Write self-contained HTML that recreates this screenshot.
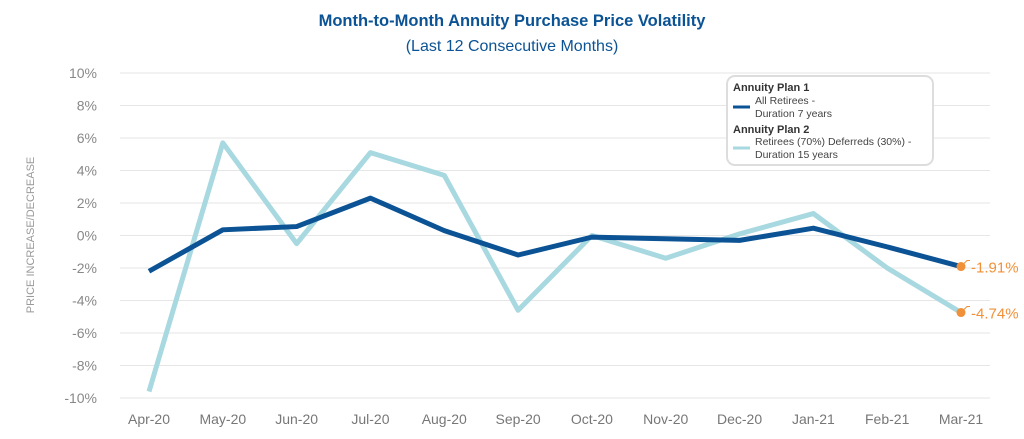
<!DOCTYPE html>
<html><head><meta charset="utf-8"><style>
body{margin:0;background:#fff;font-family:"Liberation Sans",sans-serif}
svg text{font-family:"Liberation Sans",sans-serif}
</style></head><body>
<svg width="1024" height="434" xmlns="http://www.w3.org/2000/svg">
<text x="512" y="26" text-anchor="middle" font-size="16.5" font-weight="bold" fill="#0b5394">Month-to-Month Annuity Purchase Price Volatility</text>
<text x="512" y="51" text-anchor="middle" font-size="16" fill="#0b5394">(Last 12 Consecutive Months)</text>
<text transform="translate(34,235) rotate(-90)" text-anchor="middle" font-size="11" fill="#999">PRICE INCREASE/DECREASE</text>
<g id="grid"></g><g id="ylab"></g><g id="xlab"></g><g id="lines"></g>
<g>
<rect x="727" y="76" width="206" height="89" rx="8" fill="#fff" stroke="#ddd" stroke-width="2"/>
<text x="733" y="91" font-size="11" font-weight="bold" fill="#333">Annuity Plan 1</text>
<line x1="733" y1="107" x2="750" y2="107" stroke="#0b5394" stroke-width="3"/>
<text x="755" y="104" font-size="10.5" fill="#444">All Retirees -</text>
<text x="755" y="117" font-size="10.5" fill="#444">Duration 7 years</text>
<text x="733" y="133" font-size="11" font-weight="bold" fill="#333">Annuity Plan 2</text>
<line x1="733" y1="148" x2="750" y2="148" stroke="#a8d8e0" stroke-width="3"/>
<text x="755" y="145" font-size="10.5" fill="#444">Retirees (70%) Deferreds (30%) -</text>
<text x="755" y="158" font-size="10.5" fill="#444">Duration 15 years</text>
</g>
</svg>
<script>
const categories=["Apr-20","May-20","Jun-20","Jul-20","Aug-20","Sep-20","Oct-20","Nov-20","Dec-20","Jan-21","Feb-21","Mar-21"];
const plan1=[-2.2,0.35,0.55,2.3,0.3,-1.2,-0.1,-0.2,-0.3,0.45,-0.7,-1.91];
const plan2=[-9.6,5.7,-0.5,5.1,3.7,-4.6,0.0,-1.4,0.1,1.35,-2.0,-4.74];
const yTicks=[10,8,6,4,2,0,-2,-4,-6,-8,-10];
const endLabels=["-1.91%","-4.74%"];
const NS="http://www.w3.org/2000/svg";
const x=i=>149+i*(961-149)/(categories.length-1);
const y=v=>235.5-v*16.25;
function mk(tag,attrs,parent,txt){const e=document.createElementNS(NS,tag);for(const k in attrs)e.setAttribute(k,attrs[k]);if(txt!==undefined)e.textContent=txt;document.getElementById(parent).appendChild(e);return e;}
yTicks.forEach(t=>{
 const g=mk('line',{x1:120,x2:990,y1:y(t),y2:y(t),stroke:'#e6e6e6','stroke-width':1},'grid');
 
 
 const l=mk('text',{x:97,y:y(t)+5,'text-anchor':'end','font-size':14,fill:'#888'},'ylab',t+'%');
 
 
});
categories.forEach((c,i)=>{
 const l=mk('text',{x:x(i),y:424,'text-anchor':'middle','font-size':14,fill:'#777'},'xlab',c);
 
 
});
[[plan2,'#a8d8e0','plan2-line'],[plan1,'#0b5394','plan1-line']].forEach(([d,col,name])=>{
 const p=mk('polyline',{points:d.map((v,i)=>x(i)+','+y(v)).join(' '),fill:'none',stroke:col,'stroke-width':5,'stroke-linejoin':'round'},'lines');
 
 
});
[plan1,plan2].forEach((d,k)=>{
 const n=d.length-1;
 const ld=mk('polyline',{points:(x(n))+','+y(d[n])+' '+(x(n)+6)+','+(y(d[n])-6)+' '+(x(n)+9)+','+(y(d[n])-6),fill:'none',stroke:'#f0913a','stroke-width':1},'lines');
 
 
 const c=mk('circle',{cx:x(n),cy:y(d[n]),r:4.5,fill:'#f0913a'},'lines');
 
 
 const t=mk('text',{x:x(n)+10,y:y(d[n])+6,'font-size':15,fill:'#f0913a'},'lines',endLabels[k]);
 
 
});
</script>
</body></html>
